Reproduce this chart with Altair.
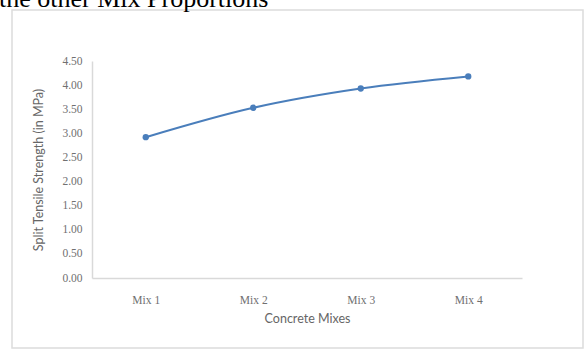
import altair as alt
import pandas as pd

mixes = ["Mix 1", "Mix 2", "Mix 3", "Mix 4"]
strength = [2.92, 3.53, 3.93, 4.18]
y_ticks = [0, 0.5, 1.0, 1.5, 2.0, 2.5, 3.0, 3.5, 4.0, 4.5]
caption = ["the other Mix Proportions"]

df = pd.DataFrame({"mix": mixes, "strength": strength})
cap_df = pd.DataFrame({"t": caption})

blue = "#4A7EBB"

x = alt.X("mix:N", sort=mixes, title="Concrete Mixes",
          axis=alt.Axis(labelAngle=0, labelFont="Liberation Serif", labelFontSize=11.5,
                        labelColor="#707070", labelPadding=16, ticks=False,
                        domainColor="#d9d9d9", domainWidth=1.5,
                        titleFont="Lato", titleFontSize=12.5, titleFontWeight="normal",
                        titleColor="#666666", titlePadding=7))
y = alt.Y("strength:Q", title="Split Tensile Strength (in MPa)",
          scale=alt.Scale(domain=[0, 4.5], nice=False),
          axis=alt.Axis(values=y_ticks, format=".2f", grid=False, ticks=False,
                        labelFont="Liberation Serif", labelFontSize=11.5,
                        labelColor="#707070", labelPadding=10,
                        domainColor="#d9d9d9", domainWidth=1.5,
                        titleFont="Lato", titleFontSize=12.5, titleFontWeight="normal",
                        titleColor="#666666", titlePadding=16))

line = alt.Chart(df).mark_line(color=blue, strokeWidth=2, interpolate="monotone").encode(x=x, y=y)
pts = alt.Chart(df).mark_circle(color=blue, size=40, opacity=1).encode(x=x, y=y)

frame = alt.Chart(cap_df).mark_rect(fill=None, stroke="#dcdcdc", strokeWidth=1.5).encode(
    x=alt.value(-80), x2=alt.value(491), y=alt.value(-51), y2=alt.value(287))

cap = alt.Chart(cap_df).mark_text(font="Liberation Serif", fontSize=26, color="#000000",
                                  align="left", baseline="alphabetic").encode(
    text="t:N", x=alt.value(-93), y=alt.value(-54))

chart = alt.layer(frame, line, pts, cap).properties(
    width=430, height=217,
    autosize=alt.AutoSizeParams(type="none"),
    padding={"left": 92, "top": 61, "right": 62, "bottom": 74},
    background="white",
).configure_view(stroke=None)

chart.save("out.html", embed_options={"renderer": "svg", "actions": False})
